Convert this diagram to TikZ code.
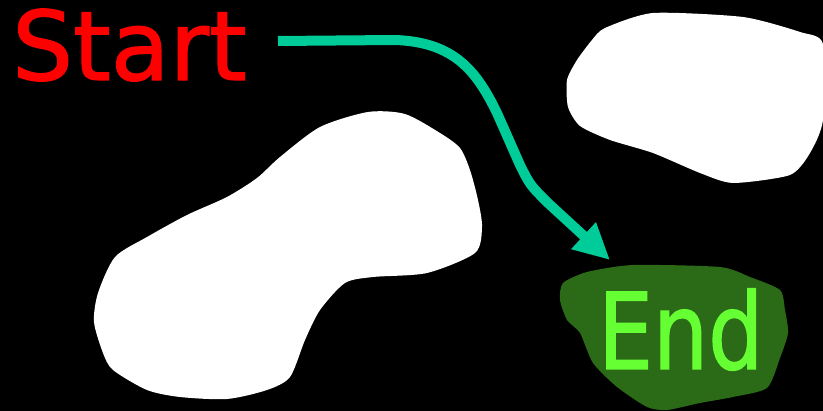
\documentclass[tikz,border=0pt]{standalone}
\usepackage{fontspec}
\setmainfont{DejaVu Sans}[FakeBold=1.3]
\usetikzlibrary{arrows.meta}
\definecolor{arrowteal}{HTML}{00CC99}
\definecolor{startred}{HTML}{FF0000}
\definecolor{endfill}{HTML}{2B6B17}
\definecolor{endtext}{HTML}{66FF33}
\tikzset{
  blob/.style={fill=white, draw=none},
  label text/.style={inner sep=0pt},
  flow/.style={draw=arrowteal, line width=10pt,
    -{Triangle[length=36pt,width=34pt]}}
}
\begin{document}
\begin{tikzpicture}[x=1pt,y=-1pt]
  % canvas
  \fill[black] (0,0) rectangle (823,411);
  \useasboundingbox (0,0) rectangle (823,411);

  % large obstacle, lower left
  \path[blob] plot[smooth cycle, tension=0.45] coordinates {
    (368,112) (405,114) (440,133) (460,148) (470,170) (478,200)
    (482,227) (475,253) (427,273) (373,277) (345,283) (320,310)
    (305,340) (290,377) (267,390) (227,399) (180,397) (147,390)
    (113,370) (103,353) (94,322) (98,293) (115,257) (147,237)
    (187,215) (227,197) (257,178) (280,157) (320,127)};

  % obstacle, upper right
  \path[blob] plot[smooth cycle, tension=0.4] coordinates {
    (605,28) (653,13) (743,17) (800,32) (823,44) (823,120)
    (810,153) (790,175) (733,183) (700,173) (653,153) (610,140)
    (580,126) (568,107) (567,80) (577,60) (592,40)};

  % goal region
  \fill[endfill] plot[smooth cycle, tension=0.4] coordinates {
    (563,283) (587,272) (633,265) (720,267) (750,277) (780,290)
    (785,310) (788,333) (780,358) (767,388) (733,397) (700,403)
    (667,410) (647,407) (617,387) (593,363) (580,333) (567,320)
    (560,300)};

  % labels
  \node[label text, text=startred, anchor=base west,
        font=\fontsize{96}{96}\selectfont] (start) at (12,80) {Start};
  \node[label text, text=endtext, anchor=base west, xscale=0.82,
        font=\fontsize{106}{106}\selectfont] (end) at (598,369) {End};

  % path from start to goal
  \coordinate (tip) at (610,260);
  \coordinate (s0) at (278,41);
  \draw[flow] (s0)
    -- (395,40) .. controls (455,42) and (477,72) .. (497,113)
    -- (520,165) .. controls (530,185) .. (548,203) -- (tip);
\end{tikzpicture}
\end{document}
